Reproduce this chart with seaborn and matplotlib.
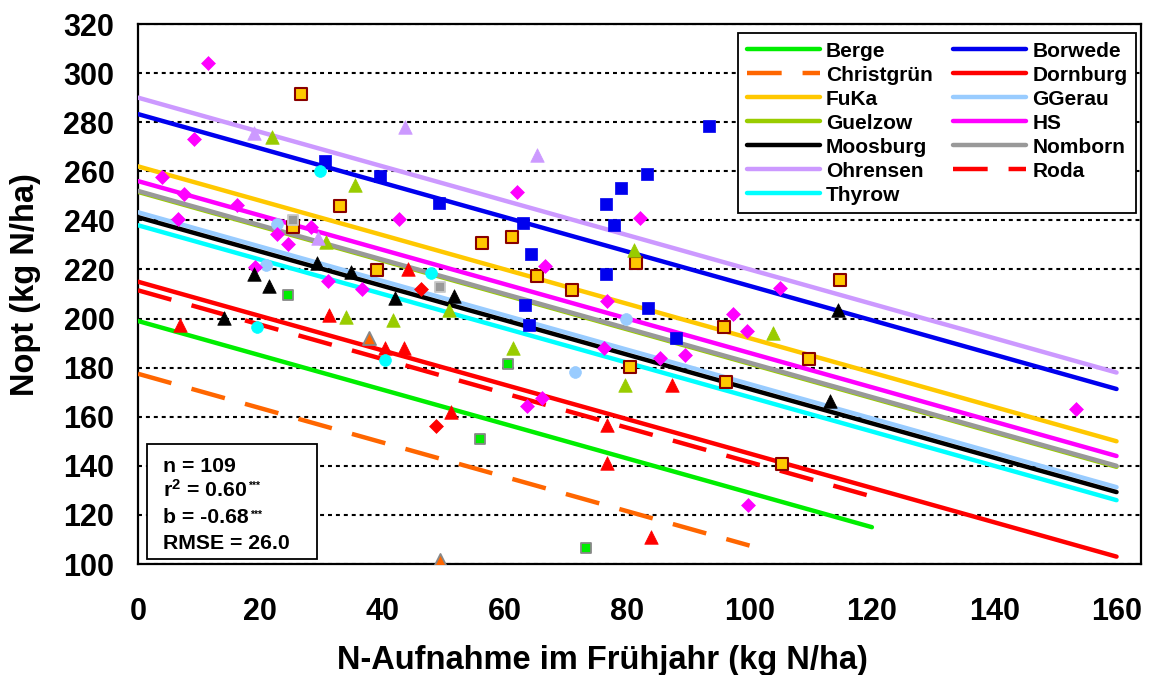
import matplotlib
matplotlib.use("Agg")
import numpy as np
import pandas as pd
import matplotlib.pyplot as plt
import seaborn as sns
from matplotlib.lines import Line2D
from matplotlib.patches import Rectangle

# ---------------- data ----------------
sites = ["Berge", "Borwede", "Christgrün", "Dornburg", "FuKa", "GGerau", "Guelzow",
         "HS", "Moosburg", "Nomborn", "Ohrensen", "Roda", "Thyrow"]

# regression lines (common slope, site intercepts, x-range end)
slope = -0.70
intercepts = [199.0, 283.3, 177.5, 215.0, 262.0, 243.3, 251.6,
              256.0, 241.3, 252.0, 290.0, 211.5, 238.0]
x_end = [120, 160, 100, 160, 160, 160, 160, 160, 160, 160, 160, 120, 160]

# observations
x_berge = [24.6, 60.5, 56.0, 73.3]
y_berge = [209.5, 181.6, 150.9, 106.5]
x_borwede = [30.5, 39.5, 49.2, 62.9, 64.2, 63.3, 64.0, 76.6, 79.0, 83.2, 93.3, 77.9, 76.6, 83.4, 88.0]
y_borwede = [264.0, 258.2, 247.2, 239.0, 226.5, 205.4, 197.4, 246.5, 253.2, 258.7, 278.5, 238.2, 218.3, 204.1, 192.0]
x_christgruen = [37.8, 49.3]
y_christgruen = [192.0, 101.8]
x_dornburg = [6.9, 31.2, 44.1, 40.4, 43.5, 51.2, 76.7, 76.7, 87.3, 83.8]
y_dornburg = [197.3, 201.6, 220.0, 188.1, 188.1, 162.0, 156.7, 141.0, 173.1, 111.2]
x_fuka = [26.6, 25.4, 33.0, 39.0, 56.2, 61.1, 65.3, 70.9, 81.5, 80.4, 95.8, 96.2, 109.7, 114.8, 105.3]
y_fuka = [291.3, 237.3, 245.8, 219.8, 230.8, 233.4, 217.2, 211.6, 222.7, 180.3, 196.6, 174.1, 183.6, 215.7, 140.7]
x_ggerau = [22.7, 21.0, 79.8, 71.4]
y_ggerau = [238.4, 221.8, 200.0, 178.2]
x_guelzow = [21.9, 35.4, 30.7, 34.0, 41.7, 50.9, 61.3, 79.7, 81.1, 103.8]
y_guelzow = [274.0, 254.3, 231.0, 200.8, 199.6, 203.5, 188.0, 173.1, 228.0, 194.3]
x_hs = [11.5, 9.1, 3.9, 7.6, 16.2, 6.6, 28.3, 22.7, 24.6, 19.2, 31.0, 36.7, 42.7, 62.0,
        82.1, 66.6, 76.7, 76.2, 85.4, 89.4, 66.1, 63.6, 97.3, 99.5, 104.9, 99.7, 153.4]
y_hs = [304.1, 273.2, 257.7, 250.9, 246.2, 240.5, 237.2, 234.6, 230.4, 221.0, 215.4, 211.9, 240.6, 251.4,
        241.1, 221.5, 207.1, 188.1, 183.9, 185.3, 167.6, 164.3, 201.9, 195.0, 212.6, 124.0, 163.0]
x_moosburg = [29.3, 34.8, 19.0, 21.4, 42.0, 51.7, 14.0, 114.4, 113.2]
y_moosburg = [222.8, 218.8, 218.0, 213.2, 208.4, 209.1, 200.1, 203.6, 166.4]
x_nomborn = [25.3, 49.4]
y_nomborn = [240.3, 213.0]
x_ohrensen = [19.0, 29.4, 43.6, 65.2]
y_ohrensen = [275.5, 232.8, 278.0, 266.5]
x_roda = [46.3, 48.8]
y_roda = [211.9, 156.1]
x_thyrow = [29.7, 47.9, 19.4, 40.4]
y_thyrow = [260.1, 218.5, 196.6, 183.0]

stats_lines = ["n = 109", "r$^{2}$ = 0.60", "b = -0.68", "RMSE = 26.0"]
stats_stars = ["", "***", "***", ""]

x_ticks = [0, 20, 40, 60, 80, 100, 120, 140, 160]
y_ticks = [100, 120, 140, 160, 180, 200, 220, 240, 260, 280, 300, 320]

# ---------------- styles ----------------
line_colors = {"Berge": "#00EE00", "Borwede": "#0000EE", "Christgrün": "#FF6600",
               "Dornburg": "#FF0000", "FuKa": "#FFC800", "GGerau": "#99CCFF",
               "Guelzow": "#99CC00", "HS": "#FF00FF", "Moosburg": "#000000",
               "Nomborn": "#999999", "Ohrensen": "#CC99FF", "Roda": "#FF0000",
               "Thyrow": "#00FFFF"}
LW = 3.2
DASH = (7.8, 4.7)
dash_map = {s: "" for s in sites}
dash_map["Christgrün"] = DASH
dash_map["Roda"] = DASH

marker_style = {
    "Berge": dict(marker="s", s=42, color="#00EE00", edgecolor="#888888", linewidth=1.3),
    "Borwede": dict(marker="s", s=78, color="#0000EE", edgecolor="#0000EE", linewidth=0.5),
    "Christgrün": dict(marker="^", s=88, color="#FF6600", edgecolor="#888888", linewidth=1.3),
    "Dornburg": dict(marker="^", s=95, color="#FF0000", edgecolor="#FF0000", linewidth=0.5),
    "FuKa": dict(marker="s", s=66, color="#FFC800", edgecolor="#880000", linewidth=1.5),
    "GGerau": dict(marker="o", s=72, color="#99CCFF", edgecolor="#99CCFF", linewidth=0.5),
    "Guelzow": dict(marker="^", s=95, color="#99CC00", edgecolor="#99CC00", linewidth=0.5),
    "HS": dict(marker="D", s=50, color="#FF00FF", edgecolor="#FF00FF", linewidth=0.5),
    "Moosburg": dict(marker="^", s=95, color="#000000", edgecolor="#000000", linewidth=0.5),
    "Nomborn": dict(marker="s", s=60, color="#999999", edgecolor="#C8C8C8", linewidth=1.3),
    "Ohrensen": dict(marker="^", s=95, color="#CC99FF", edgecolor="#CC99FF", linewidth=0.5),
    "Roda": dict(marker="D", s=50, color="#FF0000", edgecolor="#FF0000", linewidth=0.5),
    "Thyrow": dict(marker="o", s=72, color="#00FFFF", edgecolor="#00FFFF", linewidth=0.5),
}

# ---------------- frames ----------------
obs = {
    "Berge": (x_berge, y_berge), "Borwede": (x_borwede, y_borwede),
    "Christgrün": (x_christgruen, y_christgruen), "Dornburg": (x_dornburg, y_dornburg),
    "FuKa": (x_fuka, y_fuka), "GGerau": (x_ggerau, y_ggerau), "Guelzow": (x_guelzow, y_guelzow),
    "HS": (x_hs, y_hs), "Moosburg": (x_moosburg, y_moosburg), "Nomborn": (x_nomborn, y_nomborn),
    "Ohrensen": (x_ohrensen, y_ohrensen), "Roda": (x_roda, y_roda), "Thyrow": (x_thyrow, y_thyrow),
}
pts = pd.concat([pd.DataFrame({"x": xs, "y": ys, "site": s}) for s, (xs, ys) in obs.items()],
                ignore_index=True)

line_rows = []
for s, b0, xe in zip(sites, intercepts, x_end):
    for xv in (0.0, float(xe)):
        line_rows.append({"site": s, "x": xv, "y": b0 + slope * xv})
lines_df = pd.DataFrame(line_rows)

# ---------------- theme ----------------
sns.set_style("white")
plt.rcParams["font.family"] = ["Liberation Sans", "DejaVu Sans"]
plt.rcParams["font.weight"] = "bold"
plt.rcParams["axes.labelweight"] = "bold"
plt.rcParams["text.color"] = "black"
plt.rcParams["axes.labelcolor"] = "black"
plt.rcParams["xtick.color"] = "black"
plt.rcParams["ytick.color"] = "black"
plt.rcParams["mathtext.fontset"] = "custom"
plt.rcParams["mathtext.rm"] = "Liberation Sans:bold"
plt.rcParams["mathtext.it"] = "Liberation Sans:bold"
plt.rcParams["mathtext.bf"] = "Liberation Sans:bold"

fig = plt.figure(figsize=(11.52, 6.75), dpi=100)
ax = fig.add_axes([138 / 1152, 1 - 564 / 675, (1141 - 138) / 1152, (564 - 24) / 675])

sns.lineplot(data=lines_df, x="x", y="y", hue="site", style="site",
             hue_order=sites, style_order=sites, palette=line_colors, dashes=dash_map,
             linewidth=LW, estimator=None, sort=False, legend=False, ax=ax,
             solid_capstyle="round", zorder=3)

for s in sites:
    sub = pts[pts["site"] == s]
    st = marker_style[s]
    sns.scatterplot(data=sub, x="x", y="y", marker=st["marker"], s=st["s"],
                    color=st["color"], edgecolor=st["edgecolor"], linewidth=st["linewidth"],
                    legend=False, ax=ax, zorder=4)

ax.set_xlim(0, 164)
ax.set_ylim(100, 320)
ax.set_xticks(x_ticks)
ax.set_yticks(y_ticks)
ax.set_axisbelow(True)
ax.yaxis.grid(True, color="black", linestyle=(0, (1.9, 1.9)), linewidth=1.5)
ax.xaxis.grid(False)
for sp in ax.spines.values():
    sp.set_visible(True)
    sp.set_color("black")
    sp.set_linewidth(1.6)
ax.tick_params(axis="both", direction="out", length=7, width=1.5, labelsize=22,
               color="black", labelcolor="black")
ax.tick_params(axis="x", pad=17)
ax.tick_params(axis="y", pad=10)
for lab in ax.get_xticklabels() + ax.get_yticklabels():
    lab.set_fontweight("bold")

ax.set_xlabel("N-Aufnahme im Frühjahr (kg N/ha)", fontsize=23.5, fontweight="bold", color="black")
ax.set_ylabel("Nopt (kg N/ha)", fontsize=23.5, fontweight="bold", color="black")
ax.xaxis.set_label_coords(0.463, -0.150)
ax.yaxis.set_label_coords(-0.097, 0.517)

# legend (two columns, row-major order as in the reference)
col1 = ["Berge", "Christgrün", "FuKa", "Guelzow", "Moosburg", "Ohrensen", "Thyrow"]
col2 = ["Borwede", "Dornburg", "GGerau", "HS", "Nomborn", "Roda"]
handles = []
labels = []
for s in col1 + col2:
    if dash_map[s] == "":
        h = Line2D([], [], color=line_colors[s], lw=LW, solid_capstyle="round")
    else:
        h = Line2D([], [], color=line_colors[s], lw=LW, linestyle=(0, DASH))
    handles.append(h)
    labels.append(s)
leg = ax.legend(handles, labels, ncol=2, loc="upper right", bbox_to_anchor=(0.995, 0.983),
                frameon=True, fancybox=False, edgecolor="black", framealpha=1,
                handlelength=3.5, handletextpad=0.3, columnspacing=1.0, labelspacing=0.24,
                borderpad=0.4, borderaxespad=0, prop=dict(weight="bold", size=15))
leg.get_frame().set_linewidth(1.3)
leg.set_zorder(10)
for t in leg.get_texts():
    t.set_color("black")

# statistics box
ax.add_patch(Rectangle((9 / 1003, 5 / 540), 170 / 1003, 115 / 540, transform=ax.transAxes,
                       facecolor="white", edgecolor="black", linewidth=1.3, zorder=9))
baselines = [472, 497, 523, 549]
txts = []
for line, yb in zip(stats_lines, baselines):
    t = ax.text(25 / 1003, (564 - yb) / 540, line, transform=ax.transAxes, fontsize=15.3,
                fontweight="bold", va="baseline", ha="left", zorder=11, color="black")
    txts.append(t)
fig.canvas.draw()
for t, star in zip(txts, stats_stars):
    if star:
        bb = t.get_window_extent()
        fig.text(bb.x1 + 1, bb.y1 - 2, star, fontsize=7.5, fontweight="bold",
                 ha="left", va="top", transform=None, zorder=12, color="black")

fig.savefig("out.png", dpi=100)
